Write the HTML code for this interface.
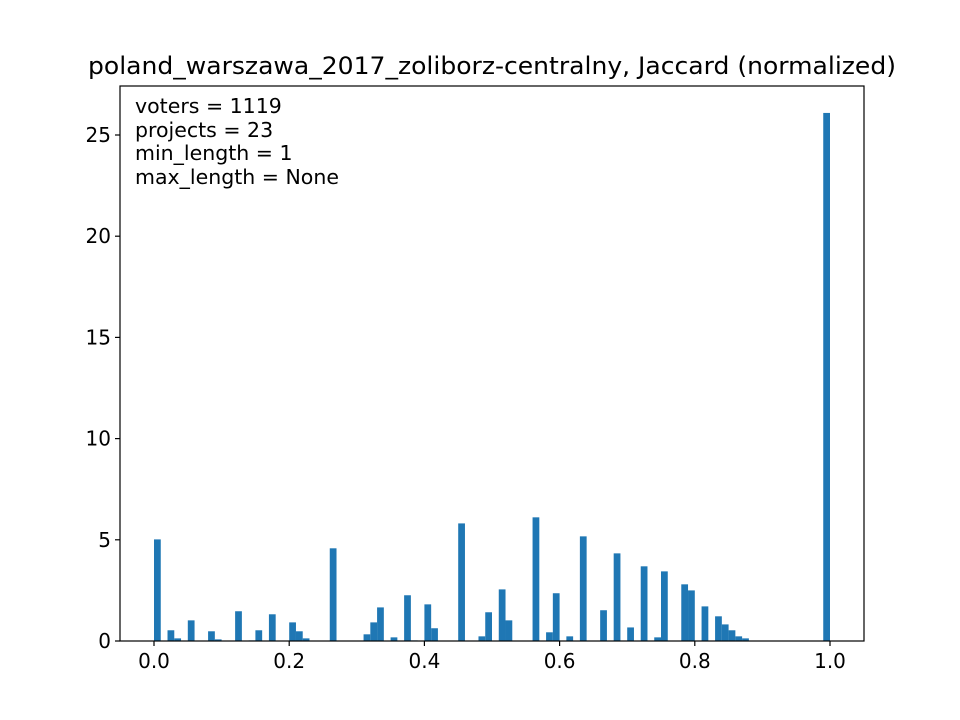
<!DOCTYPE html>
<html><head><meta charset="utf-8"><style>body{margin:0;background:#fff}svg{display:block;font-family:"DejaVu Sans","Liberation Sans",sans-serif}</style></head>
<body>
<svg id="chart" width="960" height="720" viewBox="0 0 960 720" xmlns="http://www.w3.org/2000/svg">
<rect width="960" height="720" fill="#fff"/>
<text x="492" y="74" text-anchor="middle" font-size="24" fill="#000" textLength="808" lengthAdjust="spacingAndGlyphs">poland_warszawa_2017_zoliborz-centralny, Jaccard (normalized)</text>
<g id="bars"></g>
<g id="axes"></g>
<g font-size="20.5" fill="#000">
<text x="135" y="113">voters = 1119</text>
<text x="135" y="137">projects = 23</text>
<text x="135" y="160">min_length = 1</text>
<text x="135" y="184">max_length = None</text>
</g>
</svg>
<script>
const binIndex = [0,2,3,5,8,9,12,14,15,17,20,21,22,26,31,32,33,35,37,38,40,41,45,48,49,51,52,56,58,59,61,63,66,68,70,72,74,75,78,79,81,83,84,85,86,87,99];
const binValues = [5.02,0.53,0.13,1.02,0.48,0.08,1.47,0.03,0.53,1.32,0.92,0.48,0.13,4.58,0.33,0.92,1.66,0.18,2.26,0.03,1.81,0.63,5.81,0.23,1.42,2.55,1.02,6.11,0.43,2.36,0.23,5.17,1.52,4.33,0.67,3.69,0.18,3.44,2.8,2.5,1.71,1.22,0.82,0.53,0.23,0.13,26.09];
const numBins = 100;
const xTicks = [0,0.2,0.4,0.6,0.8,1.0];
const xTickLabels = ["0.0","0.2","0.4","0.6","0.8","1.0"];
const yTicks = [0,5,10,15,20,25];
const yTickLabels = ["0","5","10","15","20","25"];
const L=120,R=864,T=86,B=641;
const xs = v => 154 + 676*v;
const ys = v => B - 20.24*v;
const NS="http://www.w3.org/2000/svg";
const bars=document.getElementById('bars'), axes=document.getElementById('axes');
function mk(tag,attrs,parent){const e=document.createElementNS(NS,tag);for(const k in attrs)e.setAttribute(k,attrs[k]);parent.appendChild(e);return e;}
binIndex.forEach((bi,i)=>{
  const x0=xs(bi/numBins), x1=xs((bi+1)/numBins);
  const r=mk('rect',{x:x0,y:ys(binValues[i]),width:x1-x0,height:B-ys(binValues[i]),fill:'#1f77b4'},bars);
  
  
});
const frame=mk('rect',{x:L,y:T,width:R-L,height:B-T,fill:'none',stroke:'#000','stroke-width':1.2},axes);


xTicks.forEach((t,i)=>{
  const x=xs(t);
  const l=mk('line',{x1:x,x2:x,y1:B,y2:B+5,stroke:'#000','stroke-width':1.2},axes);
  
  
  const tx=mk('text',{x:x,y:B+27,'text-anchor':'middle','font-size':20},axes);
  tx.textContent=xTickLabels[i];
  
  
});
yTicks.forEach((t,i)=>{
  const y=ys(t);
  const l=mk('line',{x1:L-5,x2:L,y1:y,y2:y,stroke:'#000','stroke-width':1.2},axes);
  
  
  const tx=mk('text',{x:L-9,y:y+7,'text-anchor':'end','font-size':20},axes);
  tx.textContent=yTickLabels[i];
  
  
});
</script>
</body></html>
